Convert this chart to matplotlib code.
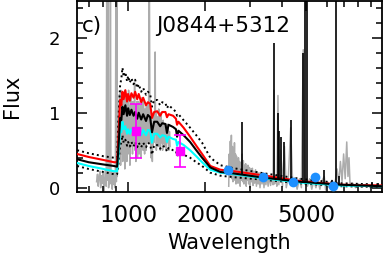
import numpy as np
import matplotlib
matplotlib.use('Agg')
import matplotlib.pyplot as plt
from matplotlib.ticker import FixedLocator, FixedFormatter, NullFormatter, MultipleLocator

plt.rcParams['font.family'] = ['DejaVu Sans']

# ---------------- data ----------------
# observed UV spectrum (gray)
uv_wl = [752, 758, 763, 769, 775, 780, 786, 792, 797, 803, 809, 815, 820, 824, 827, 831, 834, 838,
         843, 848, 852, 856, 861, 866, 871, 876, 881, 886, 891, 895, 899, 902,
         906, 910, 913, 916, 919, 922, 925, 928, 931, 934, 937, 940, 943, 946, 949, 952, 955, 958,
         961, 964, 967, 970, 973, 976, 979, 982, 985, 988, 991, 994, 997, 1000, 1004, 1008, 1012,
         1016, 1020, 1024, 1028, 1032, 1036, 1040, 1044, 1048, 1052, 1056, 1060, 1064, 1068, 1072,
         1076, 1080, 1084, 1088, 1092, 1096, 1100, 1104, 1108, 1112, 1116, 1120, 1124, 1128, 1132,
         1136, 1140, 1144, 1148, 1152, 1156, 1160, 1164, 1168, 1172, 1176, 1180, 1184, 1188, 1192,
         1196, 1200, 1204, 1207, 1212, 1216, 1220, 1224, 1228, 1232, 1236, 1240, 1244, 1248, 1252,
         1256, 1260, 1264, 1268, 1272, 1276, 1280, 1285, 1290, 1295, 1300, 1306, 1312, 1318, 1324,
         1330, 1337, 1344, 1351, 1358, 1365, 1372, 1380, 1388, 1396, 1404, 1412, 1420, 1428, 1436,
         1444, 1452, 1460]
uv_flux = [0.08, 0.18, 0.02, 0.14, 0.22, 0.0, 0.16, 0.06, 0.2, -0.04, 0.12, 0.24, 0.02, 2.6, 0.1, 0.19, 2.6, 0.0,
           0.15, 0.05, 2.6, 0.12, 0.22, -0.02, 0.17, 0.05, 0.21, 0.0, 0.14, 2.6, 0.08, 2.6,
           0.15, 0.35, 0.9, 0.5, 1.1, 0.4, 1.25, 0.6, 1.05, 0.3, 1.3, 0.7, 1.15, 0.45, 1.2, 0.35, 1.1, 0.65,
           1.25, 0.4, 1.05, 0.25, 1.3, 0.8, 1.2, 0.5, 1.15, 0.35, 1.25, 0.7, 1.0, 0.45, 1.3, 0.6, 1.05,
           0.3, 1.1, 0.55, 1.2, 0.7, 1.0, 0.45, 1.15, 0.6, 1.0, 0.8, 1.4, 0.5, 1.1, 0.35,
           1.05, 0.6, 1.15, 0.4, 1.0, 0.7, 1.15, 0.45, 1.05, 0.6, 1.0, 0.4, 1.1, 0.6, 1.2,
           0.75, 1.05, 0.5, 1.15, 0.55, 0.95, 0.45, 1.05, 0.7, 1.0, 0.5, 1.1, 0.6, 0.95, 0.7,
           1.1, 0.6, 1.3, 2.6, 2.6, 1.2, 0.6, 0.95, 0.4, 0.9, 0.5, 0.85, 0.35, 0.8, 0.55,
           1.0, 0.6, 0.95, 0.7, 1.05, 1.81, 0.8, 1.0, 0.5, 0.95, 0.6, 0.9, 0.55, 1.05, 0.7,
           0.95, 0.5, 1.0, 0.6, 0.85, 0.5, 0.9, 0.6, 0.85, 0.55, 0.8, 0.5, 0.85, 0.6, 0.8,
           0.5, 0.75, 0.55]

# observed optical spectrum (gray)
opt_wl = [2480, 2492, 2504, 2516, 2528, 2540, 2552, 2564, 2576, 2588, 2600, 2612, 2624, 2636, 2648, 2660,
          2672, 2684, 2696, 2708, 2720, 2735, 2750, 2765, 2780, 2800, 2815, 2830, 2845, 2860, 2875, 2890,
          2905, 2920, 2935, 2950, 2970, 2990, 3010, 3030, 3050, 3070, 3090, 3110, 3135, 3160, 3185, 3210,
          3235, 3260, 3290, 3320, 3350, 3380, 3410, 3440, 3470, 3500, 3540, 3580, 3620, 3660, 3700, 3727,
          3750, 3790, 3830, 3869, 3900, 3970, 4030, 4102, 4170, 4250, 4340, 4420, 4500, 4600, 4700, 4780,
          4861, 4930, 5050, 5150, 5250, 5350, 5450, 5550, 5650, 5750, 5876, 5950, 6050, 6150, 6300, 6450,
          6600, 6700, 6800, 6900, 7000, 7100, 7200, 7280, 7350, 7420, 7600, 7800, 8000, 8300, 8600, 8900,
          9100, 9300]
opt_flux = [0.02, 0.45, 0.15, 0.62, 0.20, 0.70, 0.12, 0.55, 0.08, 0.50, 0.18, 0.60, 0.10, 0.45, 0.05, 0.42,
            0.15, 0.38, 0.06, 0.40, 0.12, 0.35, 0.02, 0.33, 0.10, 0.45, 0.08, 0.36, 0.05, 0.30, 0.12, 0.32,
            0.02, 0.28, 0.10, 0.30, 0.05, 0.27, 0.0, 0.25, 0.08, 0.26, 0.03, 0.22, 0.06, 0.24, 0.02, 0.21,
            0.05, 0.20, 0.0, 0.19, 0.05, 0.20, 0.0, 0.17, 0.04, 0.18, 0.02, 0.16, 0.03, 0.15, 0.04, 1.30,
            0.05, 0.16, 0.02, 1.23, 0.04, 0.50, 0.02, 0.55, 0.0, 0.15, 0.80, 0.03, 0.13, -0.02, 0.12, 0.0,
            1.84, 0.05, 0.02, 0.12, -0.02, 0.10, 0.0, 0.11, -0.02, 0.09, 0.15, -0.03, 0.08, 0.0, 0.10, 0.02,
            0.25, 0.05, 0.35, 0.08, 0.45, 0.12, 0.61, 0.15, 0.40, 0.03, 0.06, 0.0, 0.05, 0.01, 0.05, 0.0,
            0.04, 0.01]

# model SEDs on a common wavelength grid
model_wl = [631, 700, 800, 880, 905, 915, 930, 940, 950, 960, 975, 990, 1000, 1015, 1030, 1050, 1065,
            1085, 1100, 1125, 1145, 1175, 1195, 1220, 1240, 1265, 1300, 1335, 1360, 1400, 1420, 1440,
            1500, 1540, 1555, 1575, 1650, 1750, 1850, 1950, 2100, 2300, 2600, 3300, 4700, 6800, 9900]
model_red = [0.45, 0.41, 0.37, 0.34, 0.34, 0.64, 1.17, 1.10, 1.28, 1.18, 1.30, 1.15, 1.25, 1.16, 1.26, 1.20, 1.28,
             1.18, 1.25, 1.14, 1.20, 1.10, 1.14, 1.12, 0.93, 1.01, 1.02, 0.96, 1.01, 1.01, 0.94, 0.98,
             0.96, 0.92, 0.84, 0.88, 0.80, 0.68, 0.56, 0.45, 0.29, 0.24, 0.22, 0.17, 0.09, 0.04, 0.03]
model_black = [0.38, 0.34, 0.31, 0.29, 0.28, 0.50, 0.93, 0.90, 1.08, 0.98, 1.10, 0.96, 1.06, 0.97, 1.04, 0.96, 1.01,
               0.92, 1.00, 0.91, 0.98, 0.89, 0.97, 0.94, 0.74, 0.88, 0.88, 0.82, 0.86, 0.85, 0.73, 0.84,
               0.81, 0.78, 0.68, 0.76, 0.70, 0.61, 0.50, 0.40, 0.27, 0.21, 0.19, 0.14, 0.08, 0.04, 0.02]
model_cyan = [0.33, 0.29, 0.25, 0.22, 0.22, 0.40, 0.77, 0.74, 0.88, 0.78, 0.82, 0.72, 0.78, 0.72, 0.78, 0.72, 0.77,
              0.71, 0.77, 0.70, 0.77, 0.70, 0.77, 0.76, 0.60, 0.72, 0.72, 0.67, 0.70, 0.69, 0.61, 0.68,
              0.65, 0.64, 0.56, 0.61, 0.57, 0.50, 0.42, 0.34, 0.24, 0.20, 0.18, 0.13, 0.07, 0.03, 0.02]
model_upper = [0.50, 0.46, 0.42, 0.40, 0.40, 0.90, 1.37, 1.45, 1.60, 1.48, 1.54, 1.42, 1.49, 1.40, 1.46, 1.38, 1.44,
               1.33, 1.38, 1.28, 1.33, 1.24, 1.28, 1.25, 1.08, 1.17, 1.17, 1.10, 1.14, 1.13, 1.06, 1.10,
               1.05, 1.01, 0.96, 0.98, 0.90, 0.80, 0.70, 0.60, 0.40, 0.30, 0.26, 0.20, 0.12, 0.06, 0.04]
model_lower = [0.29, 0.25, 0.21, 0.18, 0.18, 0.30, 0.57, 0.60, 0.70, 0.60, 0.64, 0.56, 0.61, 0.55, 0.61, 0.55, 0.61,
               0.54, 0.60, 0.54, 0.60, 0.54, 0.60, 0.58, 0.44, 0.57, 0.57, 0.52, 0.56, 0.54, 0.48, 0.53,
               0.50, 0.49, 0.42, 0.46, 0.44, 0.40, 0.34, 0.29, 0.20, 0.16, 0.14, 0.11, 0.06, 0.02, 0.01]

# emission lines in the optical spectrum (black)
line_wl = [2800, 3727, 3869, 3889, 3970, 4102, 4340, 4861, 4959, 5007, 5876, 6300, 6563, 6717, 9069, 9531]
line_peak = [0.88, 1.93, 1.00, 0.75, 0.68, 0.61, 0.90, 1.80, 2.60, 2.60, 0.24, 0.10, 2.60, 0.15, 0.08, 0.06]

# photometry
uvphot_wl = [1075, 1600]
uvphot_f = [0.76, 0.49]
uvphot_err = [0.36, 0.21]
opt_phot_wl = [2470, 3380, 4430, 5410, 6370]
opt_phot_f = [0.24, 0.14, 0.08, 0.14, 0.02]

# ---------------- plot ----------------
fig = plt.figure(figsize=(3.83, 2.56), dpi=100)
ax = fig.add_axes([77/383, (256-192)/256, (382-77)/383, (192-1)/256])
ax.set_xscale('log')

gray = '#acacac'
ax.plot(uv_wl, uv_flux, color=gray, lw=1.1, zorder=1)
ax.plot(opt_wl, opt_flux, color=gray, lw=1.1, zorder=1)

ax.plot(model_wl, model_upper, color='k', lw=1.4, ls=(0, (1, 1.6)), zorder=3)
ax.plot(model_wl, model_lower, color='k', lw=1.4, ls=(0, (1, 1.6)), zorder=3)
ax.plot(model_wl, model_red, color='red', lw=1.5, zorder=3)
ax.plot(model_wl, model_cyan, color='cyan', lw=1.5, zorder=3)
ax.plot(model_wl, model_black, color='k', lw=1.5, zorder=4)

line_base = np.interp(np.log10(line_wl), np.log10(model_wl), model_black)
ax.vlines(line_wl, line_base, line_peak, colors='k', lw=1.2, zorder=4)

ax.errorbar(uvphot_wl, uvphot_f, yerr=uvphot_err, fmt='s', color='magenta', ms=6,
            capsize=4, elinewidth=1.2, capthick=1.2, zorder=6)
ax.plot(opt_phot_wl, opt_phot_f, 'o', color='#1e90ff', ms=7, mec='none', zorder=6)

ax.set_xlim(630, 9900)
ax.set_ylim(-0.057, 2.49)

ax.xaxis.set_major_locator(FixedLocator([1000, 2000, 5000]))
ax.xaxis.set_major_formatter(FixedFormatter(['1000', '2000', '5000']))
ax.xaxis.set_minor_locator(FixedLocator([700, 800, 900, 3000, 4000, 6000, 7000, 8000, 9000]))
ax.xaxis.set_minor_formatter(NullFormatter())
ax.yaxis.set_major_locator(FixedLocator([0, 1, 2]))
ax.yaxis.set_minor_locator(MultipleLocator(0.2))

ax.tick_params(which='both', direction='in', top=True, right=True, width=1.1)
ax.tick_params(which='major', length=7)
ax.tick_params(which='minor', length=4)
ax.tick_params(axis='x', labelsize=16.5, pad=9)
ax.tick_params(axis='y', labelsize=13, pad=12)
for s in ax.spines.values():
    s.set_linewidth(1.3)

ax.set_xlabel('Wavelength', fontsize=15)
ax.xaxis.set_label_coords(0.5, -0.215)
ax.set_ylabel('Flux', fontsize=15)
ax.yaxis.set_label_coords(-0.18, 0.5)

ax.text(0.016, 0.869, 'c)', transform=ax.transAxes, fontsize=15.5, va='center', ha='left')
ax.text(0.258, 0.869, 'J0844+5312', transform=ax.transAxes, fontsize=15.5, va='center', ha='left')

fig.savefig('out.png', dpi=100)
